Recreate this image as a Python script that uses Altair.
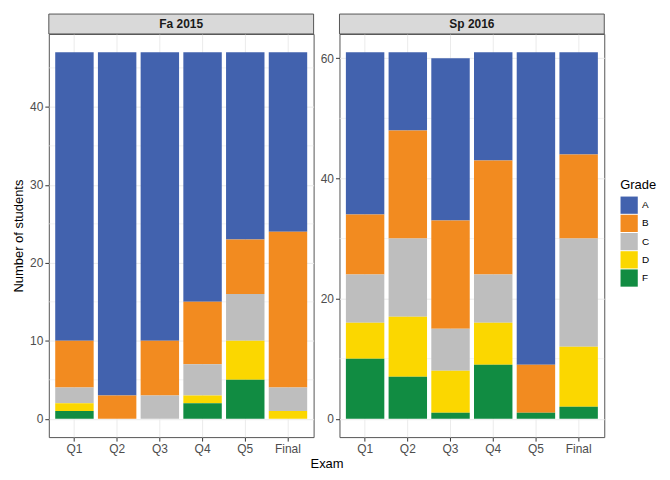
import altair as alt
import pandas as pd

exams = ["Q1", "Q2", "Q3", "Q4", "Q5", "Final"]
grades = ["A", "B", "C", "D", "F"]
colors = ["#4262AE", "#F28B20", "#BEBEBE", "#FBD700", "#118C42"]
stack_rank = {"F": 0, "D": 1, "C": 2, "B": 3, "A": 4}

fa2015 = {
    "A": [37, 44, 37, 32, 24, 23],
    "B": [6, 3, 7, 8, 7, 20],
    "C": [2, 0, 3, 4, 6, 3],
    "D": [1, 0, 0, 1, 5, 1],
    "F": [1, 0, 0, 2, 5, 0],
}
sp2016 = {
    "A": [27, 13, 27, 18, 52, 17],
    "B": [10, 18, 18, 19, 8, 14],
    "C": [8, 13, 7, 8, 0, 18],
    "D": [6, 10, 7, 7, 0, 10],
    "F": [10, 7, 1, 9, 1, 2],
}
fa_major = [0, 10, 20, 30, 40]
fa_minor = [5, 15, 25, 35, 45]
sp_major = [0, 20, 40, 60]
sp_minor = [10, 30, 50]

W, H, GAP = 266, 405, 26
FONT = "Liberation Sans"


def long_df(d):
    rows = []
    for g in grades:
        for e, v in zip(exams, d[g]):
            rows.append({"exam": e, "grade": g, "count": v, "ord": stack_rank[g]})
    return pd.DataFrame(rows)


def panel(term, d, major, minor, first):
    df = long_df(d)
    top = max(sum(d[g][i] for g in grades) for i in range(len(exams)))
    yscale = alt.Scale(domain=[-0.05 * top, 1.05 * top], nice=False, zero=False)
    ytitle = "Number of students" if first else None

    minor_grid = alt.Chart(pd.DataFrame({"v": minor})).mark_rule(
        color="#EBEBEB", strokeWidth=0.6
    ).encode(y=alt.Y("v:Q", scale=yscale, title=ytitle))

    xaxis = alt.Axis(
        title="Exam" if first else None,
        labelAngle=0,
        grid=True,
        gridColor="#EBEBEB",
        domain=False,
        ticks=True,
        tickColor="#333333",
        tickSize=4,
        tickWidth=1,
        bandPosition=0.5,
        labelPadding=2,
        labelFontSize=12,
        labelColor="#4D4D4D",
        titleFontSize=13,
        titleFontWeight="normal",
        titleColor="#000000",
        titlePadding=4,
        **({"titleX": (2 * W + GAP) / 2, "titleAlign": "center", "titleAnchor": "start"} if first else {}),
    )
    yaxis = alt.Axis(
        values=major,
        title=ytitle,
        grid=True,
        gridColor="#EBEBEB",
        domain=False,
        tickColor="#333333",
        tickSize=4,
        tickWidth=1,
        labelPadding=2,
        labelFontSize=12,
        labelColor="#4D4D4D",
        titleFontSize=13,
        titleFontWeight="normal",
        titleColor="#000000",
        titlePadding=4,
    )

    bars = alt.Chart(df).mark_bar().encode(
        x=alt.X("exam:N", sort=exams,
                scale=alt.Scale(paddingInner=0.1, paddingOuter=0.15), axis=xaxis),
        y=alt.Y("count:Q", stack="zero", scale=yscale, axis=yaxis),
        color=alt.Color(
            "grade:N",
            scale=alt.Scale(domain=grades, range=colors),
            legend=alt.Legend(
                title="Grade", orient="none", legendX=2 * W + GAP + 16, legendY=146,
                titleFontSize=13, titleFontWeight="normal", titleColor="#000000",
                labelFontSize=10, labelColor="#000000", symbolType="square",
                symbolSize=300, symbolStrokeWidth=0, rowPadding=0.3, labelOffset=4,
                titlePadding=4,
            ),
        ),
        order=alt.Order("ord:Q", sort="ascending"),
    )

    strip_df = pd.DataFrame({"term": [term]})
    strip = alt.Chart(strip_df).mark_rect(
        fill="#D9D9D9", stroke="#555555", strokeWidth=1
    ).encode(x=alt.value(0), x2=alt.value(W), y=alt.value(-20), y2=alt.value(0))
    strip_text = alt.Chart(strip_df).mark_text(
        fontWeight="bold", fontSize=12, color="#1A1A1A", baseline="middle", align="center"
    ).encode(x=alt.value(W / 2), y=alt.value(-10), text="term:N")

    return alt.layer(minor_grid, bars, strip, strip_text).properties(width=W, height=H)


left = panel("Fa 2015", fa2015, fa_major, fa_minor, True)
right = panel("Sp 2016", sp2016, sp_major, sp_minor, False)

chart = alt.hconcat(left, right, spacing=GAP, bounds="flush").resolve_scale(
    y="independent", x="independent", color="shared"
).properties(
    padding={"left": 4, "top": 4, "right": 5, "bottom": 5}
).configure(font=FONT).configure_view(stroke="#555555", strokeWidth=1)

chart.save("out.html", embed_options={"renderer": "svg", "actions": False})
